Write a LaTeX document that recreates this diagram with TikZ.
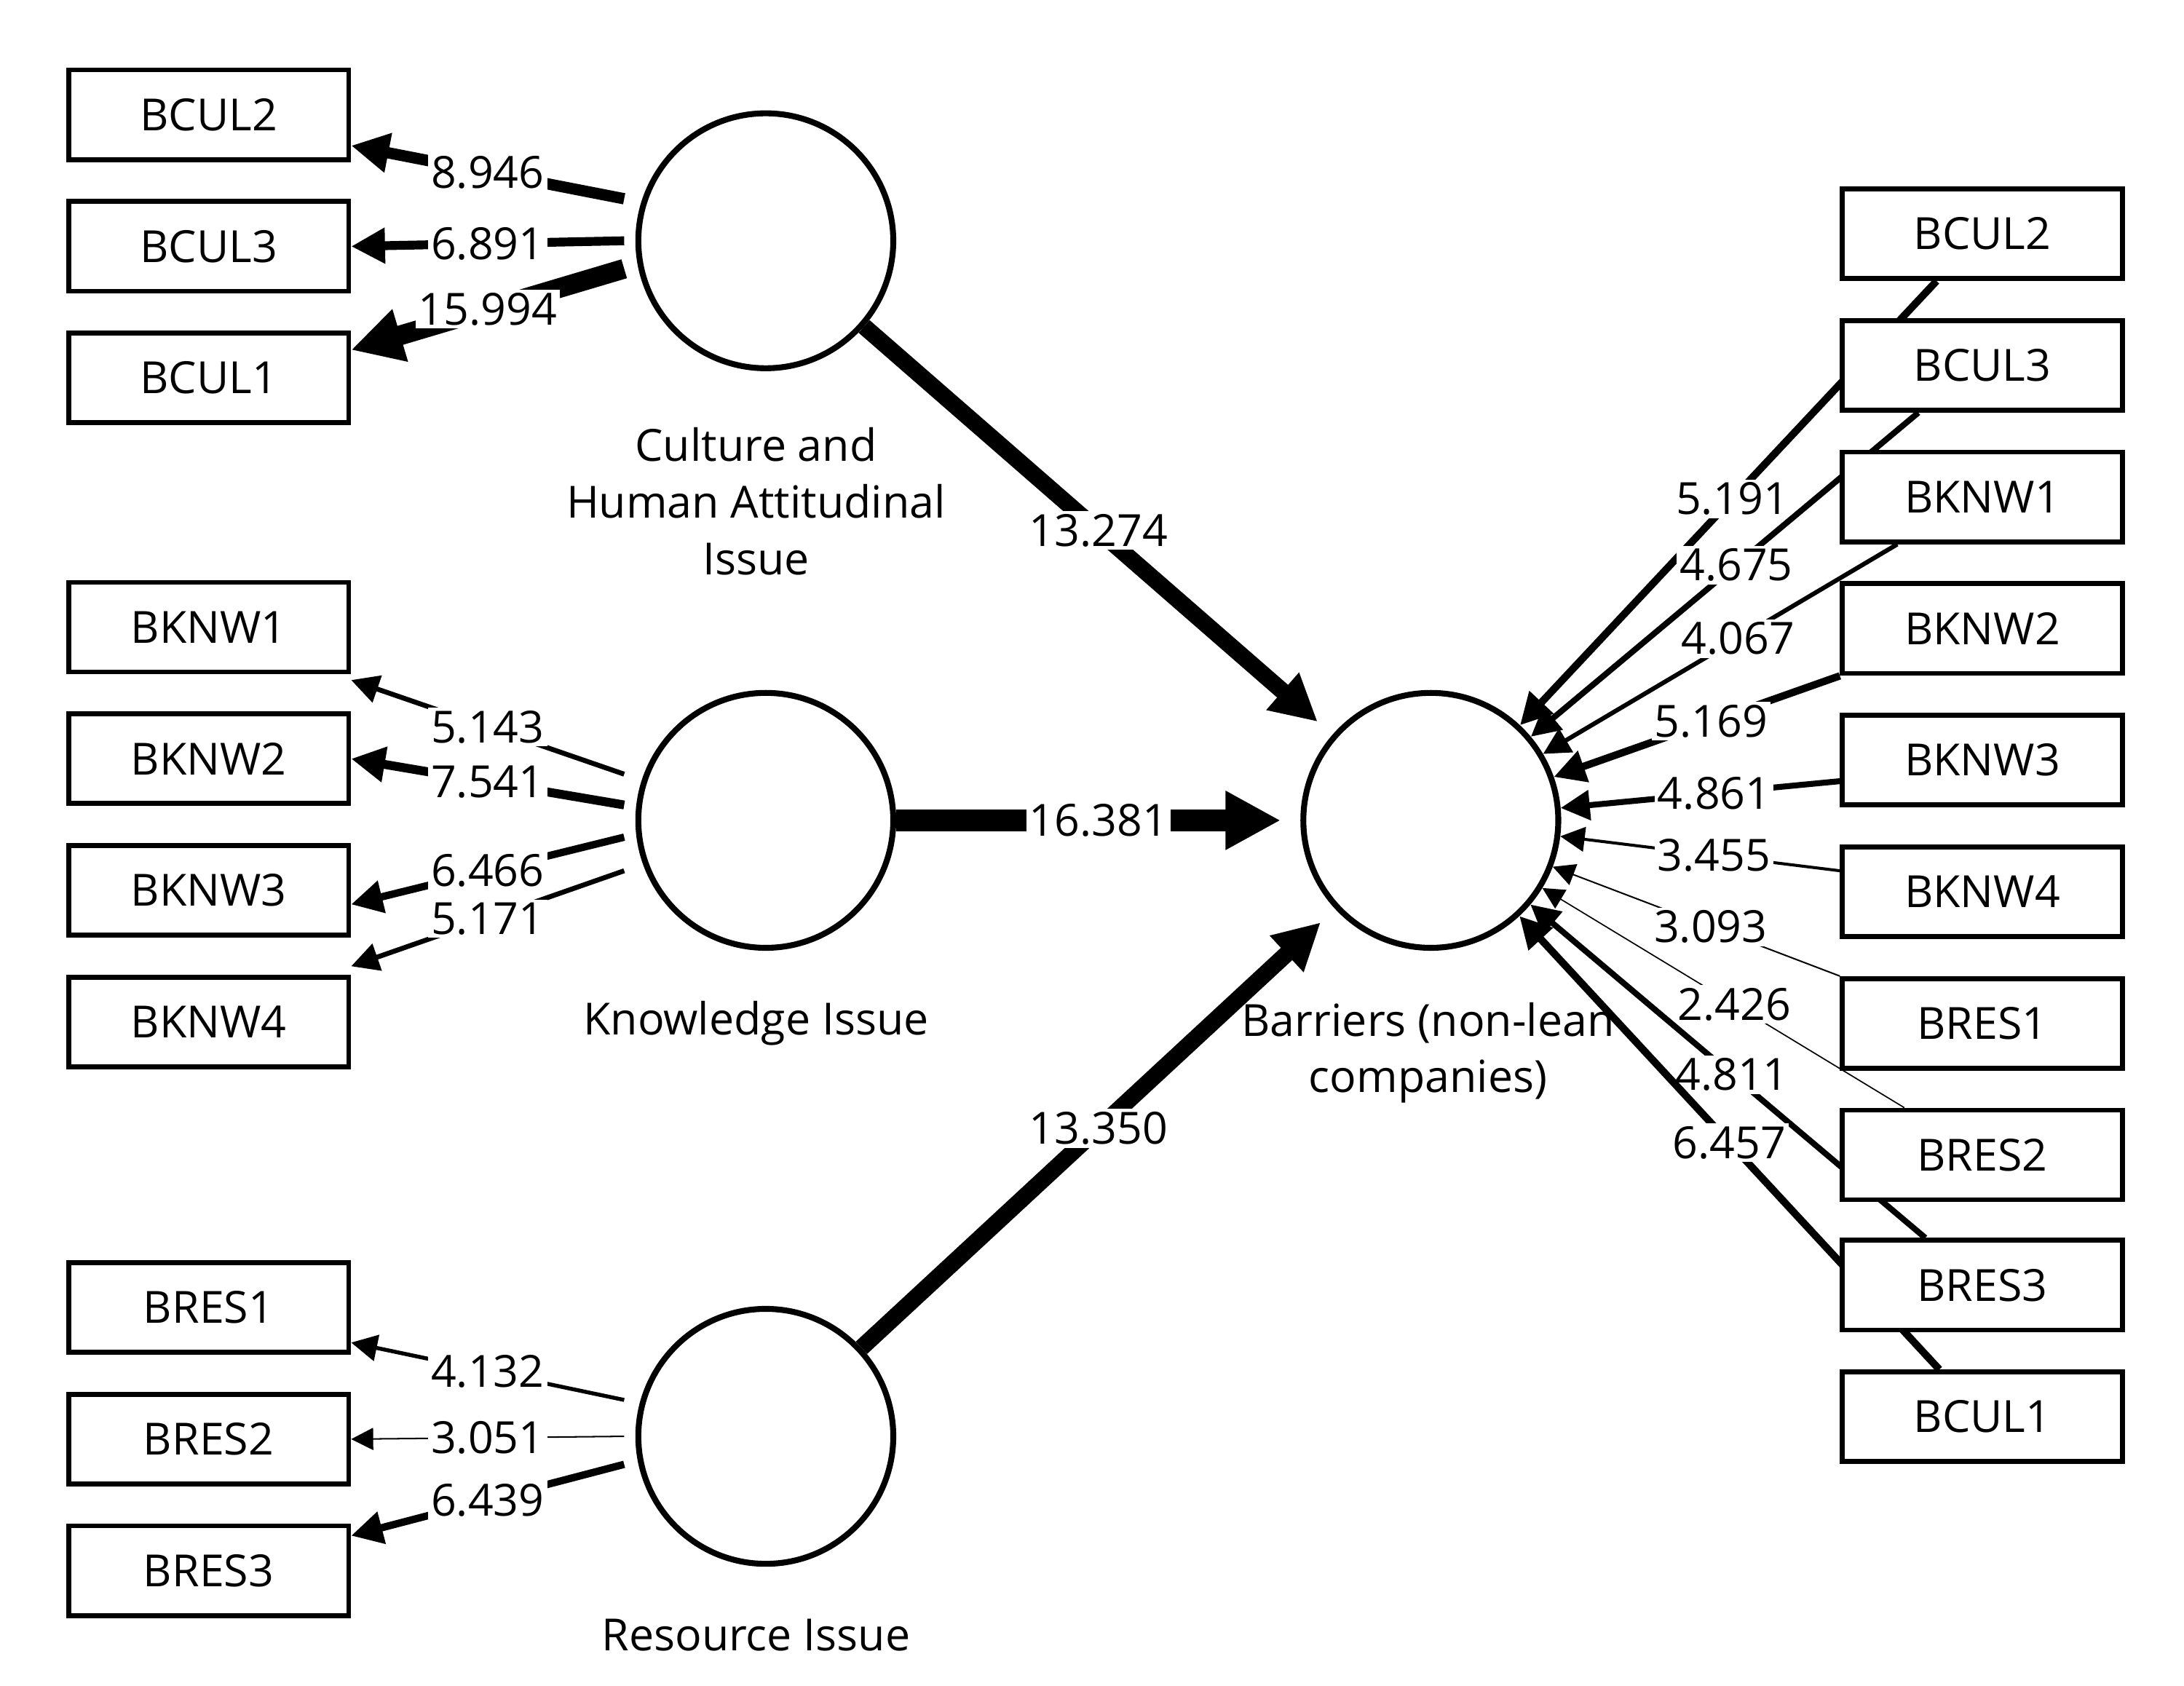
\documentclass[tikz,border=0pt]{standalone}
\usepackage{fontspec}
\setmainfont{Open Sans}
\usetikzlibrary{arrows.meta,backgrounds,calc}
\begin{document}
\begin{tikzpicture}[x=0.01cm,y=-0.01cm,
 box/.style={draw,line width=1pt,fill=white,minimum width=2.0cm,minimum height=0.64cm,inner sep=0pt,font=\fontsize{9}{11}\selectfont},
 lv/.style={draw,line width=1.2pt,circle,minimum size=1.82cm,fill=white,inner sep=0pt},
 lab/.style={font=\fontsize{9}{11.5}\selectfont,align=center},
 num/.style={fill=white,inner sep=0.6pt,font=\fontsize{9}{11}\selectfont},
 con/.style={line width=#1,-{Triangle[length=4pt 1.6,width=4pt 1.6]}}]
\useasboundingbox (0,0) rectangle (1560,1204);
% left boxes
\node[box] (lc2) at (149,82) {BCUL2};
\node[box] (lc3) at (149,176) {BCUL3};
\node[box] (lc1) at (149,270) {BCUL1};
\node[box] (lk1) at (149,448) {BKNW1};
\node[box] (lk2) at (149,542) {BKNW2};
\node[box] (lk3) at (149,636) {BKNW3};
\node[box] (lk4) at (149,730) {BKNW4};
\node[box] (lr1) at (149,934) {BRES1};
\node[box] (lr2) at (149,1028) {BRES2};
\node[box] (lr3) at (149,1122) {BRES3};
% right boxes
\node[box] (rc2) at (1416,167) {BCUL2};
\node[box] (rc3) at (1416,261) {BCUL3};
\node[box] (rk1) at (1416,355) {BKNW1};
\node[box] (rk2) at (1416,449) {BKNW2};
\node[box] (rk3) at (1416,543) {BKNW3};
\node[box] (rk4) at (1416,637) {BKNW4};
\node[box] (rr1) at (1416,731) {BRES1};
\node[box] (rr2) at (1416,825) {BRES2};
\node[box] (rr3) at (1416,918) {BRES3};
\node[box] (rc1) at (1416,1012) {BCUL1};
% latent variables
\node[lv] (cul) at (547,172) {};
\node[lv] (knw) at (547,586) {};
\node[lv] (res) at (547,1026) {};
\node[lv] (bar) at (1022,586) {};
\node[lab] (culL) at (540,358) {Culture and\\Human Attitudinal\\Issue};
\node[lab] (knwL) at (540,731) {Knowledge Issue};
\node[lab] (resL) at (540,1168) {Resource Issue};
\node[lab] (barL) at (1020,752) {Barriers (non-lean\\companies)};
% start points on the latent circles
\coordinate (c1) at ($(cul.west)+(-8,-30)$);
\coordinate (c2) at ($(cul.west)+(-8,0)$);
\coordinate (c3) at ($(cul.west)+(-8,20)$);
\coordinate (k1) at ($(knw.west)+(-8,-33)$);
\coordinate (k2) at ($(knw.west)+(-8,-11)$);
\coordinate (k3) at ($(knw.west)+(-8,12)$);
\coordinate (k4) at ($(knw.west)+(-8,36)$);
\coordinate (r1) at ($(res.west)+(-8,-26)$);
\coordinate (r2) at ($(res.west)+(-8,0)$);
\coordinate (r3) at ($(res.west)+(-8,20)$);
\begin{scope}[on background layer]
% left
\draw[con=2.3pt] (c1) -- ([yshift=-0.22cm]lc2.east) node[num,pos=0.5]{8.946};
\draw[con=1.8pt] (c2) -- (lc3.east) node[num,pos=0.5]{6.891};
\draw[con=4pt] (c3) -- ([yshift=0.2cm]lc1.east) node[num,pos=0.5]{15.994};
\draw[con=1pt] (k1) -- ([yshift=-0.04cm]lk1.south east) node[num,pos=0.5]{5.143};
\draw[con=1.8pt] (k2) -- (lk2.east) node[num,pos=0.5]{7.541};
\draw[con=1.5pt] (k3) -- ([yshift=-0.1cm]lk3.east) node[num,pos=0.5]{6.466};
\draw[con=1pt] (k4) -- ([yshift=0.06cm]lk4.north east) node[num,pos=0.5]{5.171};
\draw[con=0.8pt] (r1) -- ([yshift=-0.25cm]lr1.east) node[num,pos=0.5]{4.132};
\draw[con=0.3pt] (r2) -- (lr2.east) node[num,pos=0.5]{3.051};
\draw[con=1.5pt] (r3) -- ([yshift=0.25cm]lr3.east) node[num,pos=0.5]{6.439};
% structural
\draw[con=3.4pt,shorten >=4pt] (cul) -- (bar) node[num,pos=0.5]{13.274};
\draw[con=4.5pt,shorten >=4pt] (knw) -- (bar) node[num,pos=0.5]{16.381};
\draw[con=3.4pt,shorten >=4pt] (res) -- (bar) node[num,pos=0.5]{13.350};
% right
\draw[con=1.5pt] ([xshift=0.69cm]rc2.south west) -- (bar) node[num,pos=0.49]{5.191};
\draw[con=1.2pt] ([xshift=0.56cm]rc3.south west) -- (bar) node[num,pos=0.47]{4.675};
\draw[con=0.9pt] ([xshift=0.41cm]rk1.south west) -- (bar) node[num,pos=0.45]{4.067};
\draw[con=1.5pt] (rk2.south west) -- (bar) node[num,pos=0.45]{5.169};
\draw[con=1.2pt] ([yshift=-0.15cm]rk3.west) -- (bar) node[num,pos=0.45]{4.861};
\draw[con=0.6pt] ([yshift=0.15cm]rk4.west) -- (bar) node[num,pos=0.45]{3.455};
\draw[con=0.3pt] (rr1.north west) -- (bar) node[num,pos=0.45]{3.093};
\draw[con=0.25pt] ([xshift=0.46cm]rr2.north west) -- (bar) node[num,pos=0.47]{2.426};
\draw[con=1.2pt] ([xshift=0.61cm]rr3.north west) -- (bar) node[num,pos=0.49]{4.811};
\draw[con=1.5pt] ([xshift=0.71cm]rc1.north west) -- (bar) node[num,pos=0.5]{6.457};
\end{scope}
\end{tikzpicture}
\end{document}
